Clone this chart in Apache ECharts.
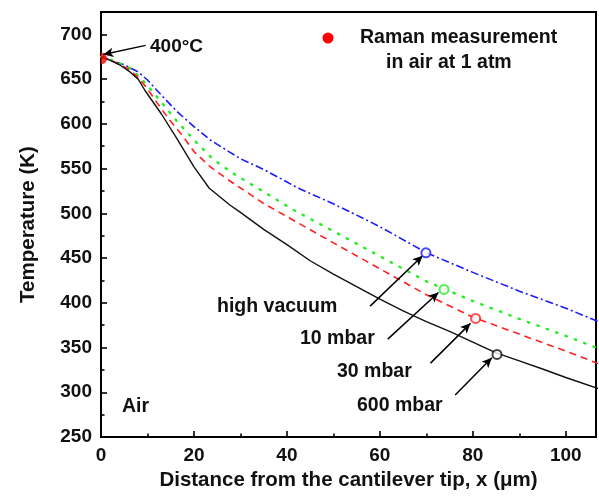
<!DOCTYPE html>
<html>
<head>
<meta charset="utf-8">
<script src="https://cdn.jsdelivr.net/npm/echarts@6/dist/echarts.min.js"></script>
<style>html,body{margin:0;padding:0;background:#fff;}#c{width:599px;height:497px;}</style>
</head>
<body>
<div id="c"></div>
<script>
// ---- data ----
const xTicks = [0, 20, 40, 60, 80, 100];
const yTicks = [250, 300, 350, 400, 450, 500, 550, 600, 650, 700];

const vacuumX = [0, 2.5, 5, 8, 10, 13, 16.5, 20, 23.5, 27.5, 30, 35, 42.5, 49, 55, 60, 70, 80, 90, 100, 107];
const vacuumY = [675, 670, 666, 658, 649, 632, 613, 597, 582, 569, 561, 549, 528, 513, 498, 485, 456, 434, 413, 394, 379];

const mbar10X = [0, 3, 6, 8, 10, 13, 16.5, 20, 24, 28, 35, 41, 50, 60, 70, 80, 90, 100, 107];
const mbar10Y = [675, 670, 663, 654, 643, 624, 602, 582, 561, 546, 524, 505, 480, 452, 424, 402, 382, 363, 349];

const mbar30X = [0, 3, 6, 8, 10, 12, 14.5, 17.5, 20, 23.5, 27.5, 35, 42.5, 50, 60, 70, 80, 90, 100, 107];
const mbar30Y = [675, 669, 661, 652, 639, 624, 606, 587, 569, 552, 537, 511, 489, 467, 438, 409, 384, 365, 346, 332];

const mbar600X = [0, 2, 4, 6, 8, 9.5, 13, 16.5, 20, 23.3, 27.8, 30, 35, 40, 45, 50, 55, 60, 65, 70, 75, 80, 85, 90, 95, 100, 107];
const mbar600Y = [675, 671, 666, 659, 650, 637, 611, 582, 552, 528, 509, 501, 482, 465, 447, 432, 418, 404, 391, 379, 368, 356, 344, 335, 326, 316.5, 304];

const markerX = [69.9, 73.8, 80.6, 85.2];      // high vacuum, 10, 30, 600 mbar
const markerY = [455.8, 414.9, 382.5, 342.3];

const ramanX = [0];
const ramanY = [673];

const seriesNames = ['high vacuum', '10 mbar', '30 mbar', '600 mbar'];
const seriesColors = ['#1a1aff', '#22ee22', '#ff2020', '#111111'];

// ---- helpers ----
// The y axis is drawn relative to its lowest tick (250 K) so that its range starts at 0;
// the labels add the base back, so the displayed scale is the real temperature scale.
const Y_BASE = yTicks[0];
const Y_TOP = 725;
const zip = (xs, ys) => xs.map((x, i) => [x, ys[i] - Y_BASE]);
const FONT = '"Liberation Sans", Arial, sans-serif';

const chart = echarts.init(document.getElementById('c'), null, {renderer: 'canvas'});

const mkAxis = (extra) => Object.assign({
  type: 'value',
  axisLine: {show: true, onZero: false, lineStyle: {color: '#000', width: 2}},
  axisTick: {show: true, inside: true, length: 6, lineStyle: {width: 1.6}},
  minorTick: {show: true, splitNumber: 2, length: 3.5, lineStyle: {width: 1.6}},
  splitLine: {show: false},
  minorSplitLine: {show: false},
}, extra);

const lineStyles = [
  {type: [8, 3, 2, 3], width: 1.6},
  {type: [1.5, 8.5], width: 2.4, cap: 'round'},
  {type: [7, 5], width: 1.6},
  {type: 'solid', width: 1.4},
];
const dataSets = [zip(vacuumX, vacuumY), zip(mbar10X, mbar10Y), zip(mbar30X, mbar30Y), zip(mbar600X, mbar600Y)];

const series = dataSets.map((d, i) => ({
  name: seriesNames[i],
  type: 'line',
  data: d,
  showSymbol: false,
  smooth: false,
  clip: true,
  z: 3,
  lineStyle: Object.assign({color: seriesColors[i]}, lineStyles[i]),
}));

series.push({
  name: 'markers',
  type: 'scatter',
  data: zip(markerX, markerY).map((p, i) => ({value: p, itemStyle: {color: seriesColors[i], borderColor: seriesColors[i]}})),
  symbol: 'emptyCircle',
  symbolSize: 9,
  itemStyle: {borderWidth: 1.3},
  z: 5,
});

series.push({
  name: 'Raman measurement in air at 1 atm',
  type: 'scatter',
  data: zip(ramanX, ramanY),
  symbol: 'path://M0 -10 A10 10 0 0 1 0 10 Z',
  symbolSize: [6, 12],
  symbolOffset: [3, 0],
  clip: true,
  itemStyle: {color: '#ff0000'},
  z: 4,
});

// arrows (annotations, in data coordinates)
const arrow = (x1, y1, x2, y2) => [{coord: [x1, y1 - Y_BASE], symbol: 'none'}, {coord: [x2, y2 - Y_BASE], symbol: 'arrow'}];
series.push({
  name: 'arrows',
  type: 'line',
  data: [],
  silent: true,
  markLine: {
    silent: true,
    symbolSize: [7, 10],
    label: {show: false},
    lineStyle: {color: '#000', width: 1.5, type: 'solid'},
    data: [
      arrow(9.6, 687.7, 0.5, 677.5),
      arrow(57.9, 396.3, 69.2, 452.5),
      arrow(61.7, 359.4, 72.6, 411.5),
      arrow(70.9, 332.6, 79.5, 377),
      arrow(76.2, 296.9, 84.1, 338.5),
    ],
  },
});

const txt = (text, left, cy, size) => ({
  type: 'text', x: left, y: cy, z: 10,
  style: {text, font: 'bold ' + (size || 19) + 'px ' + FONT, fill: '#111', verticalAlign: 'middle', align: 'left'},
});

chart.setOption({
  animation: false,
  backgroundColor: '#fff',
  grid: {left: 101, right: 0, top: 12, bottom: 60, containLabel: false,
    show: true, borderColor: '#000', borderWidth: 2, backgroundColor: 'transparent'},
  xAxis: mkAxis({
    position: 'bottom', min: 0, max: 106.5, interval: 20,
    name: 'Distance from the cantilever tip, x (μm)',
    nameLocation: 'middle', nameGap: 33,
    nameTextStyle: {fontFamily: FONT, fontWeight: 'bold', fontSize: 20.5, color: '#111'},
    axisLabel: {show: true, margin: 9, fontFamily: FONT, fontWeight: 'bold', fontSize: 19, color: '#111',
      formatter: v => xTicks.includes(v) ? String(v) : ''},
  }),
  yAxis: mkAxis({
    position: 'left', min: 0, max: Y_TOP - Y_BASE, interval: 50,
    name: 'Temperature (K)',
    nameLocation: 'middle', nameGap: 62, nameRotate: 90,
    nameTextStyle: {fontFamily: FONT, fontWeight: 'bold', fontSize: 20.5, color: '#111'},
    axisLabel: {show: true, margin: 9, fontFamily: FONT, fontWeight: 'bold', fontSize: 19, color: '#111',
      formatter: v => yTicks.includes(v + Y_BASE) ? String(v + Y_BASE) : ''},
  }),
  series,
  graphic: [
    txt('400°C', 150, 47, 19),
    {type: 'circle', shape: {cx: 328, cy: 38, r: 5.5}, style: {fill: '#ff0000'}, z: 10},
    txt('Raman measurement', 360, 38, 19.5),
    txt('in air at 1 atm', 386, 63, 19.5),
    txt('high vacuum', 217, 307, 19.5),
    txt('10 mbar', 300, 339, 19.5),
    txt('30 mbar', 337, 372, 19.5),
    txt('600 mbar', 357, 406, 19.5),
    txt('Air', 122, 407, 19.5),
  ],
});
</script>
</body>
</html>
